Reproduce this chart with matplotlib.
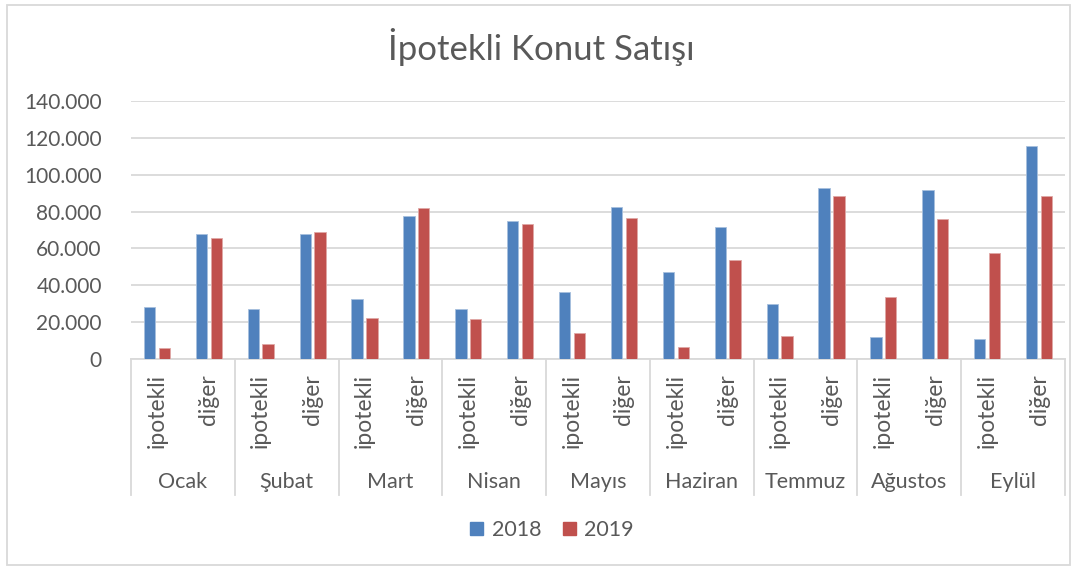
import matplotlib.pyplot as plt
import matplotlib.patches as mpatches
from matplotlib.ticker import FuncFormatter
import numpy as np

plt.rcParams['font.family'] = ['Lato', 'DejaVu Sans']

months = ['Ocak', 'Şubat', 'Mart', 'Nisan', 'Mayıs', 'Haziran', 'Temmuz', 'Ağustos', 'Eylül']
sub_labels = ['ipotekli', 'diğer']

# values per month: [ipotekli, diğer]
sales_2018 = [28300, 67900, 27400, 67800, 32300, 77700, 27400, 74800, 36400, 82600,
              47100, 71400, 29900, 92900, 12100, 91900, 10900, 115600]
sales_2019 = [6000, 65900, 8300, 69000, 22300, 81900, 21900, 73400, 14300, 76600,
              6700, 53600, 12500, 88600, 33500, 76100, 57400, 88600]

blue = '#4F81BD'
red = '#C0504D'
grid_col = '#D9D9D9'
text_col = '#595959'

W, H = 1077, 570
fig = plt.figure(figsize=(W / 100, H / 100), dpi=100)
ax = fig.add_axes([131 / W, (H - 359) / H, (1065 - 131) / W, 258 / H])

x = np.arange(len(sales_2018))
bw = 0.218
off = 0.143
ax.bar(x - off, sales_2018, bw, color=blue, edgecolor='#A7C0DE', linewidth=0.6, label='2018', zorder=3)
ax.bar(x + off, sales_2019, bw, color=red, edgecolor='#E0A8A6', linewidth=0.6, label='2019', zorder=3)

ax.set_xlim(-0.5, len(x) - 0.5)
ax.set_ylim(0, 140000)
ax.set_yticks(np.arange(0, 140001, 20000))
ax.yaxis.set_major_formatter(FuncFormatter(lambda v, p: f'{int(v):,}'.replace(',', '.')))
ax.grid(axis='y', color=grid_col, linewidth=1.3, zorder=0)
ax.tick_params(axis='y', length=0, labelsize=15, labelcolor=text_col, pad=21)
ax.set_xticks([])
for s in ['top', 'right', 'left']:
    ax.spines[s].set_visible(False)
ax.spines['bottom'].set_color(grid_col)
ax.spines['bottom'].set_linewidth(1.3)

# multi-level category axis
tr = ax.get_xaxis_transform()
for i in range(len(x)):
    ax.text(i, -0.058, sub_labels[i % 2], transform=tr, rotation=90, ha='center', va='top',
            fontsize=16.5, color=text_col, clip_on=False)
for m, name in enumerate(months):
    ax.text(2 * m + 0.5, -0.477, name, transform=tr, ha='center', va='center',
            fontsize=15.5, color=text_col, clip_on=False)
for k in range(len(months) + 1):
    ax.plot([2 * k - 0.5, 2 * k - 0.5], [0, -0.527], transform=tr, color=grid_col,
            linewidth=1.3, clip_on=False)

fig.text(541 / W, (H - 47) / H, 'İpotekli Konut Satışı', ha='center', va='center',
         fontsize=25, color=text_col)

handles = [mpatches.Patch(color=blue, label='2018'), mpatches.Patch(color=red, label='2019')]
fig.legend(handles=handles, loc='center', bbox_to_anchor=(552 / W, (H - 530) / H), ncol=2,
           frameon=False, fontsize=15.5, handlelength=0.6, handleheight=0.6, handletextpad=0.4,
           columnspacing=1.0, labelcolor=text_col)

fig.patches.append(mpatches.Rectangle((7 / W, 5 / H), (1070 - 7) / W, (565 - 5) / H,
                                      transform=fig.transFigure, fill=False,
                                      edgecolor=grid_col, linewidth=1.3))

fig.savefig('out.png', dpi=100)
